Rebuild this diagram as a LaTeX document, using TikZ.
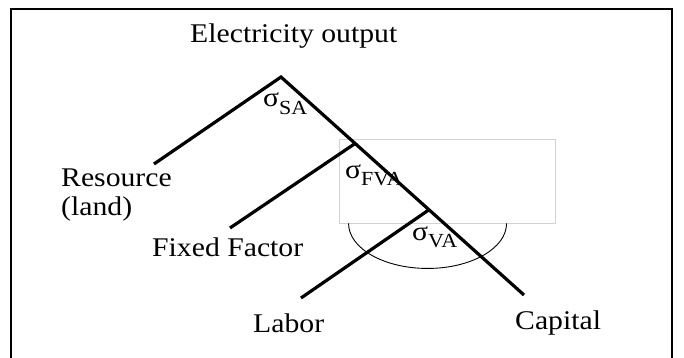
\documentclass[tikz,border=0pt]{standalone}
\usepackage{fontspec}
\setmainfont{Liberation Serif}
\usetikzlibrary{calc}

\newcommand{\sigsub}[1]{σ\raisebox{-0.28em}{\fontsize{20}{20}\selectfont #1}}

\begin{document}
\begin{tikzpicture}[x=1pt, y=-1pt,
  lbl/.style={inner sep=0pt, anchor=base west, xscale=1.1,
              font=\fontsize{27}{29}\selectfont},
  branch/.style={line width=3.2pt},
  frame/.style={line width=2.8pt},
  nest/.style={draw=gray!35, line width=0.9pt},
  sub/.style={line width=0.9pt}]
\useasboundingbox (0,0) rectangle (684,358);
% frame
\coordinate (fl) at (11,358);
\coordinate (ftl) at (11,9);
\coordinate (ftr) at (672,9);
\coordinate (fr) at (672,358);
\draw[frame] (fl) -- (ftl) -- (ftr) -- (fr);
% nest box and arc
\node[nest, minimum width=216pt, minimum height=84pt, inner sep=0pt] (box) at (447,181) {};
\draw[sub] (box.south west) ++(10,0) coordinate (arcs)
  arc[start angle=180, end angle=0, x radius=79, y radius=45] coordinate (arce);
% tree
\coordinate (top) at (281,77);
\coordinate (res) at (154,164);
\coordinate (cap) at (524,295);
\coordinate (jf) at ($(top)!0.305!(cap)$);
\coordinate (jv) at ($(top)!0.609!(cap)$);
\coordinate (fix) at (230,228);
\coordinate (lab) at (301,298);
\draw[branch] (res) -- (top) -- (cap);
\draw[branch] (jf) -- (fix);
\draw[branch] (jv) -- (lab);
% labels
\node[lbl] (out) at (190,43) {Electricity output};
\node[lbl, align=left] (resl) at (61,215) {Resource\\(land)};
\node[lbl] (fixl) at (152,256) {Fixed Factor};
\node[lbl] (labl) at (253,332) {Labor};
\node[lbl] (capl) at (515,329) {Capital};
\node[lbl] (ssa) at (263,107) {\sigsub{SA}};
\node[lbl] (sfva) at (345,178) {\sigsub{FVA}};
\node[lbl] (sva) at (412,240) {\sigsub{VA}};
\end{tikzpicture}
\end{document}
